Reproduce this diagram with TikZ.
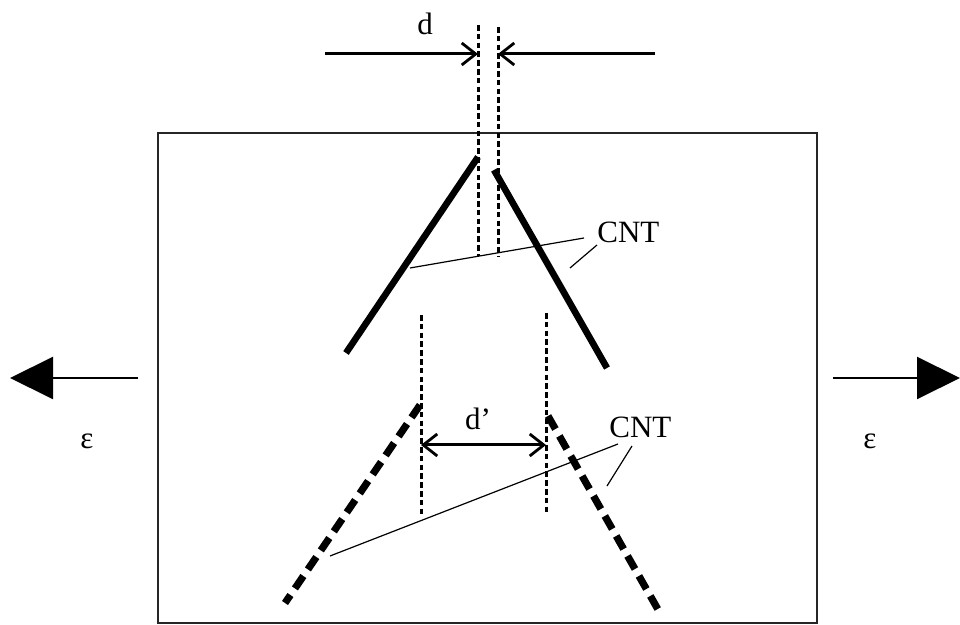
\documentclass[tikz,border=0pt]{standalone}
\usepackage{fontspec}
\setmainfont{Liberation Serif}
\usetikzlibrary{arrows.meta}
\begin{document}
\begin{tikzpicture}[x=0.5pt,y=-0.5pt,
  frame/.style={draw=black!85,line width=0.8pt,inner sep=0pt,minimum width=329.5pt,minimum height=245pt},
  guide/.style={line width=1.5pt,dash pattern=on 2.8pt off 1.6pt},
  barb/.tip={Straight Barb[length=7pt,width=11pt,line width=1.4pt]},
  dimline/.style={line width=1.5pt,-barb},
  dimboth/.style={line width=1.5pt,barb-barb},
  cnt/.style={line width=3.3pt},
  cntbroken/.style={line width=3.6pt,dash pattern=on 7.5pt off 4pt},
  leader/.style={line width=0.6pt},
  strain/.style={line width=1pt,-{Triangle[length=21.5pt,width=21pt]}},
  lbl/.style={font=\fontsize{15.5pt}{18pt}\selectfont,inner sep=0pt}]
\useasboundingbox (0,0) rectangle (960,625);
\node[frame] (box) at (487.5,378) {};
% top dashed guides
\coordinate (g1t) at (478,25); \coordinate (g1b) at (478,256);
\coordinate (g2t) at (498,27); \coordinate (g2b) at (498,257);
\draw[guide] (g1t) -- (g1b);
\draw[guide] (g2t) -- (g2b);
% d dimension
\coordinate (dl) at (325,54); \coordinate (dlt) at (478,54);
\coordinate (dr) at (655,54); \coordinate (drt) at (498,54);
\draw[dimline] (dl) -- (dlt);
\draw[dimline] (dr) -- (drt);
\node[lbl] (d) at (425,24) {d};
% top CNTs
\coordinate (c1a) at (478,157); \coordinate (c1b) at (346,353);
\coordinate (c2a) at (494,170); \coordinate (c2b) at (607,368);
\draw[cnt] (c1a) -- (c1b);
\draw[cnt] (c2a) -- (c2b);
\node[lbl,anchor=west] (cnt1) at (597,232) {CNT};
\coordinate (l1a) at (410,268); \coordinate (l1b) at (584,238);
\coordinate (l2a) at (570,268); \coordinate (l2b) at (597,245);
\draw[leader] (l1a) -- (l1b);
\draw[leader] (l2a) -- (l2b);
% middle dashed guides
\coordinate (m1t) at (421,315); \coordinate (m1b) at (421,517);
\coordinate (m2t) at (546,313); \coordinate (m2b) at (546,513);
\draw[guide] (m1t) -- (m1b);
\draw[guide] (m2t) -- (m2b);
\coordinate (dpl) at (421,445); \coordinate (dpr) at (546,445);
\draw[dimboth] (dpl) -- (dpr);
\node[lbl] (dp) at (478,419) {d\symbol{"27}};
% bottom broken CNTs
\coordinate (b1a) at (420,405); \coordinate (b1b) at (285,603);
\coordinate (b2a) at (548,416); \coordinate (b2b) at (660,613);
\draw[cntbroken] (b1a) -- (b1b);
\draw[cntbroken] (b2a) -- (b2b);
\node[lbl,anchor=west] (cnt2) at (609,427) {CNT};
\coordinate (k1a) at (330,556); \coordinate (k1b) at (618,444);
\coordinate (k2a) at (607,486); \coordinate (k2b) at (632,446);
\draw[leader] (k1a) -- (k1b);
\draw[leader] (k2a) -- (k2b);
% strain arrows
\coordinate (sl0) at (138,378); \coordinate (sl1) at (10,378);
\coordinate (sr0) at (833,378); \coordinate (sr1) at (960,378);
\draw[strain] (sl0) -- (sl1);
\draw[strain] (sr0) -- (sr1);
\node[lbl] (eps1) at (87,441) {ε};
\node[lbl] (eps2) at (870,441) {ε};
\end{tikzpicture}
\end{document}
